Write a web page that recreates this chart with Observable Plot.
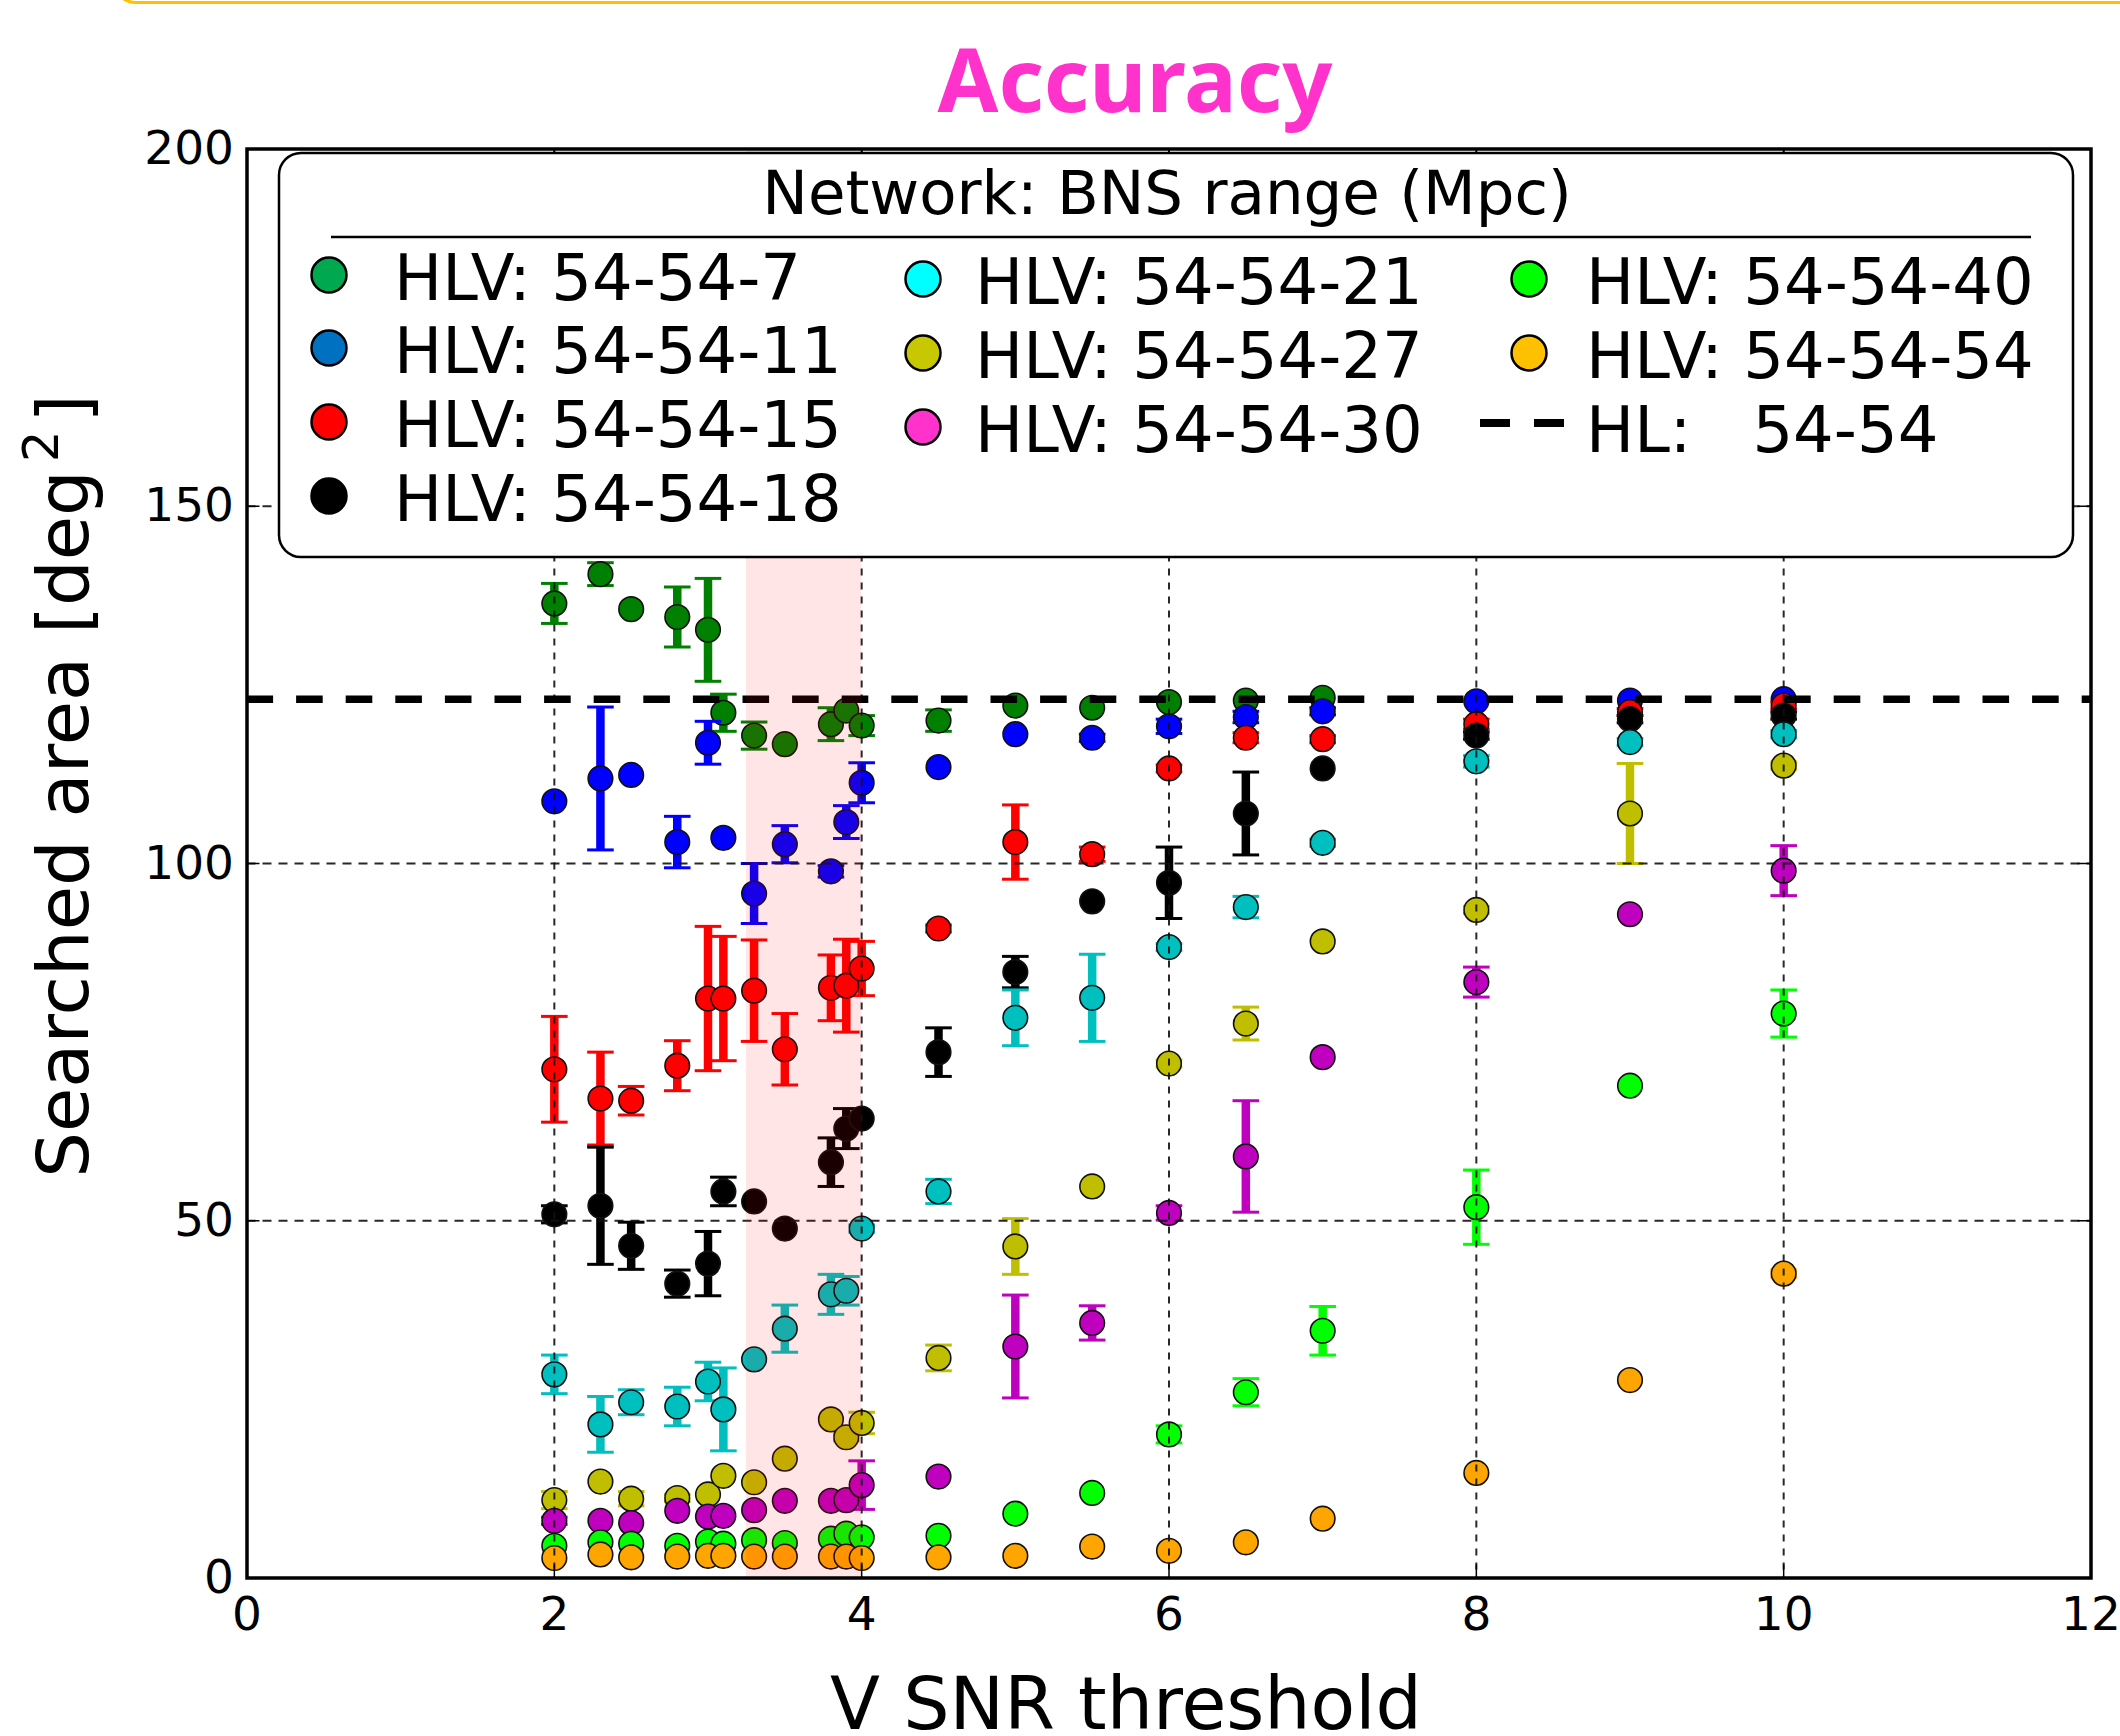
<!DOCTYPE html>
<html><head><meta charset="utf-8">
<script src="https://cdn.jsdelivr.net/npm/d3@7"></script>
<script src="https://cdn.jsdelivr.net/npm/@observablehq/plot@0.6"></script>
<style>
html,body{margin:0;padding:0;background:#fff;}
#wrap{position:relative;width:2120px;height:1736px;overflow:hidden;font-family:"DejaVu Sans",sans-serif;}
#topline{position:absolute;left:112px;top:-44px;width:2100px;height:48px;box-sizing:border-box;border:3.5px solid #ffc000;border-radius:26px;}
#wrap svg{display:block;}
</style></head><body><div id="wrap"><div id="topline"></div></div>
<script>
// ---------- data ----------
const snr = [2, 2.3, 2.5, 2.8, 3.0, 3.1, 3.3, 3.5, 3.8, 3.9, 4.0, 4.5, 5, 5.5, 6, 6.5, 7, 8, 9, 10];

const area7  = [136.4,140.5,135.6,134.5,132.7,121.1,117.9,116.7,119.5,121.4,119.3,120.0,122.1,121.8,122.6,122.8,123.2,null,null,null];
const err7   = [2.8,1.6,0,4.2,7.2,2.6,1.9,0,2.3,0,1.4,1.5,0,0,0,0,0,0,0,0];
const area11 = [108.7,111.9,112.4,103.0,116.9,103.6,95.8,102.7,98.9,105.8,111.3,113.5,118.1,117.6,119.2,120.5,121.3,122.7,122.8,123.0];
const err11  = [0,10.0,0,3.6,3.0,0,4.2,2.6,0.8,2.3,2.8,0,0,0.5,1.0,0.8,0.5,0,0,0];
const area15 = [71.2,67.1,66.8,71.7,81.1,81.1,82.2,74.0,82.6,82.9,85.3,90.9,103.0,101.3,113.3,117.6,117.4,119.5,121.2,122.1];
const err15  = [7.4,6.5,2.0,3.5,10.1,8.7,7.1,5.0,4.6,6.5,3.8,0.5,5.2,1.0,0.5,0.7,0.5,0.7,0.5,0.5];
const area18 = [50.9,52.1,46.5,41.2,44.0,54.1,52.7,48.9,58.2,62.9,64.3,73.6,84.8,94.7,97.3,107.0,113.3,117.9,120.2,120.7];
const err18  = [1.2,8.2,3.3,1.9,4.5,2.0,0,0,3.4,2.8,0,3.4,2.2,0,5.0,5.8,0,0.5,0.5,0.5];
const area21 = [28.5,21.5,24.6,24.0,27.5,23.6,30.6,34.9,39.7,40.2,48.9,54.1,78.4,81.2,88.3,93.9,102.9,114.3,117.0,118.1];
const err21  = [2.7,3.9,1.75,2.7,2.7,5.8,0,3.3,2.8,2.0,0.5,1.7,3.9,6.1,0.5,1.5,0.5,0.8,0.5,0.5];
const area27 = [10.9,13.5,11.1,11.2,11.7,14.3,13.4,16.7,22.2,19.7,21.7,30.8,46.4,54.8,72.0,77.6,89.1,93.5,107.0,113.7];
const err27  = [1.2,0,1.0,0.5,0,0,0,0,0,0.5,1.5,1.8,3.9,0,0.5,2.3,0,0.5,7.0,0.5];
const area30 = [8.0,8.0,7.7,9.4,8.6,8.7,9.5,10.8,10.8,10.9,13.0,14.2,32.4,35.7,51.1,59.0,72.9,83.4,92.9,99.0];
const err30  = [0.5,0,0,0,0,0,0,0,0,0,3.4,0,7.2,2.4,1.0,7.8,0,2.1,0,3.5];
const area40 = [4.5,5.0,4.8,4.5,5.1,4.8,5.3,4.9,5.5,6.2,5.7,5.9,9.0,11.9,20.1,26.0,34.6,51.9,68.9,79.0];
const err40  = [0,0,0,0,0,0,0,0,0,0,0,0,0,0,1.2,1.9,3.4,5.2,0,3.3];
const area54 = [2.8,3.3,2.9,3.0,3.1,3.1,3.0,3.0,3.0,3.0,2.8,2.9,3.1,4.4,3.8,5.0,8.3,14.7,27.7,42.6];
const err54  = [0,0,0,0,0,0,0,0,0,0,0,0,0,0,0,0,0,0,0,0.5];

const seriesNames = ["HLV: 54-54-7","HLV: 54-54-11","HLV: 54-54-15","HLV: 54-54-18","HLV: 54-54-21","HLV: 54-54-27","HLV: 54-54-30","HLV: 54-54-40","HLV: 54-54-54"];
const seriesAreas = [area7, area11, area15, area18, area21, area27, area30, area40, area54];
const seriesErrs  = [err7, err11, err15, err18, err21, err27, err30, err40, err54];
const plotColors  = ["#008000","#0000ff","#ff0000","#000000","#00bfbf","#bfbf00","#bf00bf","#00ff00","#ffa500"];
const legendColors= ["#00a84f","#0070c0","#ff0000","#000000","#00ffff","#c8c800","#ff33cc","#00ff00","#ffc000"];

const hlArea = 123;            // HL: 54-54 reference
const hlName = "HL:   54-54";
const bandSNR = [3.25, 4.0];   // shaded region
const xTicks = [0, 2, 4, 6, 8, 10, 12];
const yTicks = [0, 50, 100, 150, 200];
const xGrid = [2, 4, 6, 8, 10];
const yGrid = [50, 100, 150];

// ---------- build ----------
const W = 2120, H = 1736;
const mL = 246.5, mR = 29.5, mT = 148.5, mB = 158.5;
const frameW = W - mL - mR, frameH = H - mT - mB;

const capSymbol = {
  draw(context, size) {
    const w = Math.sqrt(size / Math.PI);
    context.moveTo(-w, 0);
    context.lineTo(w, 0);
  }
};

const marks = [];
seriesAreas.forEach((areas, i) => {
  const rows = [];
  areas.forEach((v, j) => { if (v != null) rows.push({x: snr[j], y: v, e: seriesErrs[i][j]}); });
  const withErr = rows.filter(r => r.e > 0);
  const c = plotColors[i];
  marks.push(Plot.ruleX(withErr, {x: "x", y1: r => r.y - r.e, y2: r => r.y + r.e, stroke: c, strokeWidth: 8.5}));
  marks.push(Plot.dot(withErr, {x: "x", y: r => r.y - r.e, symbol: capSymbol, r: 13.3, stroke: c, strokeWidth: 3, fill: "none"}));
  marks.push(Plot.dot(withErr, {x: "x", y: r => r.y + r.e, symbol: capSymbol, r: 13.3, stroke: c, strokeWidth: 3, fill: "none"}));
  marks.push(Plot.dot(rows, {x: "x", y: "y", r: 12.3, fill: c, stroke: "#111", strokeWidth: 1.6}));
});

// grid (drawn above points, as in the reference)
marks.push(Plot.ruleX(xGrid, {stroke: "#111", strokeWidth: 2, strokeDasharray: "7,7", strokeOpacity: 0.9}));
marks.push(Plot.ruleY(yGrid, {stroke: "#111", strokeWidth: 2, strokeDasharray: "9,7", strokeOpacity: 0.9}));
// HL dashed reference
marks.push(Plot.ruleY([hlArea], {stroke: "black", strokeWidth: 7.5, strokeDasharray: "26.6,23"}));
// shaded band
marks.push(Plot.rect([{a: bandSNR[0], b: bandSNR[1], lo: 0, hi: 200}], {x1: "a", x2: "b", y1: "lo", y2: "hi", fill: "red", fillOpacity: 0.1}));
// inward ticks
marks.push(Plot.ruleX(xTicks, {insetTop: frameH - 13, stroke: "black", strokeWidth: 1.5}));
marks.push(Plot.ruleX(xTicks, {insetBottom: frameH - 13, stroke: "black", strokeWidth: 1.5}));
marks.push(Plot.ruleY(yTicks, {insetRight: frameW - 13, stroke: "black", strokeWidth: 1.5}));
marks.push(Plot.ruleY(yTicks, {insetLeft: frameW - 13, stroke: "black", strokeWidth: 1.5}));
marks.push(Plot.frame({stroke: "black", strokeWidth: 3.5}));

const chart = Plot.plot({
  width: W, height: H,
  marginLeft: mL, marginRight: mR, marginTop: mT, marginBottom: mB,
  style: {fontFamily: "DejaVu Sans", fontSize: "47px", background: "transparent", color: "black", overflow: "visible"},
  x: {domain: [0, 12], ticks: xTicks, tickFormat: d => String(d), tickSize: 0, tickPadding: 19, label: null},
  y: {domain: [0, 200], ticks: yTicks, tickFormat: d => String(d), tickSize: 0, tickPadding: 13, label: null},
  marks
});
document.getElementById("wrap").appendChild(chart);

// ---------- overlay: titles and legend ----------
const ov = d3.select("#wrap").append("svg")
  .attr("width", W).attr("height", H)
  .style("position", "absolute").style("left", "0px").style("top", "0px")
  .attr("font-family", "DejaVu Sans");

ov.append("text").attr("x", 1135).attr("y", 112).attr("text-anchor", "middle")
  .attr("font-family", "Noto Sans").attr("font-weight", "bold").attr("font-size", 88)
  .attr("fill", "#ff33cc").text("Accuracy");

ov.append("text").attr("x", 1126).attr("y", 1729).attr("text-anchor", "middle")
  .attr("font-size", 73).text("V SNR threshold");

const yl = ov.append("text").attr("transform", "translate(88,786) rotate(-90)")
  .attr("text-anchor", "middle").attr("font-size", 72);
yl.append("tspan").text("Searched area [deg");
yl.append("tspan").attr("dx", 8).attr("dy", -30).attr("font-size", 50).text("2");
yl.append("tspan").attr("dx", 8).attr("dy", 30).text("]");

// legend
const lg = ov.append("g");
lg.append("rect").attr("x", 279).attr("y", 153).attr("width", 1794).attr("height", 404)
  .attr("rx", 22).attr("fill", "white").attr("stroke", "black").attr("stroke-width", 2.5);
lg.append("text").attr("x", 1167).attr("y", 214).attr("text-anchor", "middle")
  .attr("font-size", 61).text("Network: BNS range (Mpc)");
lg.append("line").attr("x1", 331).attr("x2", 2031).attr("y1", 237).attr("y2", 237)
  .attr("stroke", "black").attr("stroke-width", 2.5);

const colMarkX = [329, 923, 1529];
const colTextX = [394, 975, 1586];
const colBase = [[300, 373, 447, 521], [304, 378, 452], [304, 378, 452]];
const slots = [[0,0],[0,1],[0,2],[0,3],[1,0],[1,1],[1,2],[2,0],[2,1]];
seriesNames.forEach((name, i) => {
  const [c, r] = slots[i];
  const by = colBase[c][r];
  lg.append("circle").attr("cx", colMarkX[c]).attr("cy", by - 25).attr("r", 17.5)
    .attr("fill", legendColors[i]).attr("stroke", "black").attr("stroke-width", 2.5);
  lg.append("text").attr("x", colTextX[c]).attr("y", by).attr("font-size", 64).text(name);
});
// HL entry
lg.append("line").attr("x1", 1480).attr("x2", 1564).attr("y1", 452 - 29).attr("y2", 452 - 29)
  .attr("stroke", "black").attr("stroke-width", 8).attr("stroke-dasharray", "30,24");
lg.append("text").attr("x", colTextX[2]).attr("y", 452).attr("font-size", 64)
  .style("white-space", "pre").text(hlName);
</script>
</body></html>
